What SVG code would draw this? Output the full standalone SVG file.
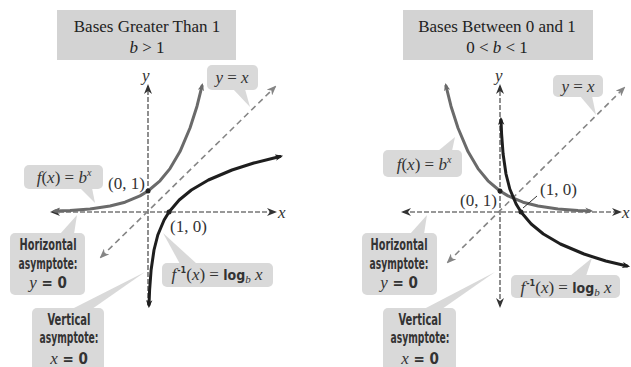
<svg xmlns="http://www.w3.org/2000/svg" width="631" height="367" viewBox="0 0 631 367">
<style>
.title{fill:#d3d3d3}
.tt{font-family:"Liberation Serif","DejaVu Serif","Times New Roman",serif;font-size:17px;fill:#222;text-anchor:middle}
.call{fill:#d9d9d9}
.m{font-family:"Liberation Serif","DejaVu Serif","Times New Roman",serif;font-size:17px;fill:#333}
.i{font-style:italic}
.asy{font-family:"DejaVu Sans Condensed","Liberation Sans Narrow","Liberation Sans",sans-serif;font-weight:bold;font-size:15px;fill:#333;text-anchor:middle}
.bs{font-family:"DejaVu Sans Condensed","Liberation Sans",sans-serif;font-weight:bold;font-style:normal}
.ser{font-family:"Liberation Serif","DejaVu Serif",serif;font-style:italic;font-weight:normal;font-size:17px}
.axis{stroke:#333;stroke-width:1.1;stroke-dasharray:5,2;fill:none}
.diag{stroke:#858585;stroke-width:1.6;stroke-dasharray:6,4;fill:none}
.exp{stroke:#6a6a6a;stroke-width:3;fill:none;stroke-linejoin:round;stroke-linecap:round}
.log{stroke:#1e1e1e;stroke-width:3;fill:none;stroke-linejoin:round;stroke-linecap:round}
.dot{fill:#222}
</style>
<defs>
<marker id="ah" viewBox="0 0 10 8" refX="8" refY="4" markerWidth="10" markerHeight="8" markerUnits="userSpaceOnUse" orient="auto-start-reverse"><path d="M0,0 L10,4 L0,8 L3,4 z" fill="#333"/></marker>
<marker id="ahd" viewBox="0 0 10 8" refX="8" refY="4" markerWidth="10" markerHeight="8" markerUnits="userSpaceOnUse" orient="auto-start-reverse"><path d="M0,0 L10,4 L0,8 L3,4 z" fill="#858585"/></marker>
<marker id="ahe" viewBox="0 0 10 8" refX="6" refY="4" markerWidth="8" markerHeight="7" markerUnits="userSpaceOnUse" orient="auto-start-reverse"><path d="M0,0 L10,4 L0,8 L3,4 z" fill="#6a6a6a"/></marker>
<marker id="ahl" viewBox="0 0 10 8" refX="6" refY="4" markerWidth="8" markerHeight="7" markerUnits="userSpaceOnUse" orient="auto-start-reverse"><path d="M0,0 L10,4 L0,8 L3,4 z" fill="#1e1e1e"/></marker>
</defs>

<!-- Left panel -->
<g id="title-left">
<rect class="title" x="57" y="10" width="179" height="50"/>
<text class="tt" x="147" y="32">Bases Greater Than 1</text>
<text class="tt" x="147" y="53"><tspan class="i">b</tspan> &gt; 1</text>
</g>

<g id="connectors">
<line class="axis" x1="148" y1="305" x2="148" y2="86" marker-end="url(#ah)"/>
<line class="axis" x1="52" y1="212" x2="275" y2="212" marker-start="url(#ah)" marker-end="url(#ah)"/>
<line class="diag" x1="101" y1="257" x2="275" y2="87" marker-start="url(#ahd)" marker-end="url(#ahd)"/>
<polyline class="exp" points="55,211 70,210.4 90,208.9 110,206 125,202.2 140,195.9 148,191 160,180.8 170,168.6 180,151.6 190,128 197,106.2 202,86" marker-start="url(#ahe)" marker-end="url(#ahe)"/>
<polyline class="log" points="149,305 149.6,290 151.1,270 154,250 157.8,235 164.1,220 169,212 179.2,200 191.4,190 208.4,180 232,170 253.8,163 280,156.5" marker-start="url(#ahl)" marker-end="url(#ahl)"/>
<line class="axis" x1="500" y1="306" x2="500" y2="86" marker-start="url(#ah)" marker-end="url(#ah)"/>
<line class="axis" x1="403" y1="212" x2="620" y2="212" marker-start="url(#ah)" marker-end="url(#ah)"/>
<line class="diag" x1="448" y1="262" x2="624" y2="88" marker-start="url(#ahd)" marker-end="url(#ahd)"/>
<polyline class="exp" points="446,86 451,106.2 458,128 468,151.6 478,168.6 488,180.8 500,191 508,195.9 523,202.2 538,206 558,208.9 578,210.4 590,210.9" marker-start="url(#ahe)" marker-end="url(#ahe)"/>
<polyline class="log" points="501,120 501.6,134 503.1,154 506,174 509.8,189 516.1,204 521,212 531.2,224 543.4,234 560.4,244 584,254 605.8,261 627,266" marker-start="url(#ahl)" marker-end="url(#ahl)"/>
<line x1="537" y1="196" x2="523" y2="208" stroke="#333" stroke-width="1"/>
</g>

<g id="points">
<circle class="dot" cx="148" cy="191" r="2.5"/>
<circle class="dot" cx="169" cy="212" r="2.5"/>
<circle class="dot" cx="500" cy="191" r="2.5"/>
<circle class="dot" cx="521" cy="212" r="2.5"/>
</g>

<g id="axis-labels">
<text class="m i" x="142" y="81">y</text>
<text class="m i" x="278" y="218">x</text>
<text class="m i" x="495" y="81">y</text>
<text class="m i" x="622" y="218">x</text>
<text class="m" x="108" y="189" font-size="16">(0, 1)</text>
<text class="m" x="170" y="232" font-size="16">(1, 0)</text>
<text class="m" x="460" y="206" font-size="16">(0, 1)</text>
<text class="m" x="540" y="195" font-size="16">(1, 0)</text>
</g>

<g id="callout-yx-left">
<path class="call" d="M233,89 L250,107 L245,89 z"/>
<rect class="call" x="207" y="65" width="51" height="25" rx="5"/>
<text class="m" x="232" y="83" text-anchor="middle"><tspan class="i">y</tspan> = <tspan class="i">x</tspan></text>
</g>
<g id="callout-fx-left">
<path class="call" d="M80,188 L95,203 L92,188 z"/>
<rect class="call" x="24" y="165" width="79" height="24" rx="5"/>
<text class="m" x="64" y="183" text-anchor="middle" font-size="16"><tspan class="i">f</tspan>(<tspan class="i">x</tspan>) = <tspan class="i">b</tspan><tspan class="i" font-size="10" dy="-7">x</tspan></text>
</g>
<g id="callout-hasym-left">
<path class="call" d="M60,234 L77,215 L74,234 z"/>
<rect class="call" x="10" y="233" width="75" height="62" rx="5"/>
<text class="asy" x="48" y="250" textLength="57" lengthAdjust="spacingAndGlyphs">Horizontal</text>
<text class="asy" x="48" y="269" textLength="59" lengthAdjust="spacingAndGlyphs">asymptote:</text>
<text class="asy" x="48" y="288"><tspan class="ser">y</tspan> = 0</text>
</g>
<g id="callout-log-left">
<path class="call" d="M180,264 L163,233 L197,264 z"/>
<rect class="call" x="162" y="263" width="111" height="24" rx="5"/>
<text class="m" x="217" y="280" text-anchor="middle" font-size="16"><tspan class="i">f</tspan><tspan class="bs" font-size="9" dx="1" dy="-7">-1</tspan><tspan dy="7">(</tspan><tspan class="i">x</tspan>) = <tspan class="bs" font-size="14">log</tspan><tspan class="i" font-size="11" dy="3">b</tspan><tspan dy="-3"> </tspan><tspan class="i">x</tspan></text>
</g>
<g id="callout-vasym-left">
<path class="call" d="M72,309 L145,272 L92,309 z"/>
<rect class="call" x="32" y="308" width="72" height="64" rx="5"/>
<text class="asy" x="69" y="325" textLength="43" lengthAdjust="spacingAndGlyphs">Vertical</text>
<text class="asy" x="69" y="343" textLength="59" lengthAdjust="spacingAndGlyphs">asymptote:</text>
<text class="asy" x="69" y="364" font-size="14"><tspan class="ser" font-size="16">x</tspan> = 0</text>
</g>

<!-- Right panel -->
<g id="title-right">
<rect class="title" x="403" y="10" width="190" height="50"/>
<text class="tt" x="497" y="32">Bases Between 0 and 1</text>
<text class="tt" x="497" y="53">0 &lt; <tspan class="i">b</tspan> &lt; 1</text>
</g>
<g id="callout-yx-right">
<path class="call" d="M580,96 L596,115 L592,96 z"/>
<rect class="call" x="553" y="75" width="50" height="22" rx="5"/>
<text class="m" x="578" y="92" text-anchor="middle"><tspan class="i">y</tspan> = <tspan class="i">x</tspan></text>
</g>
<g id="callout-fx-right">
<path class="call" d="M438,151 L455,137 L452,151 z"/>
<rect class="call" x="383" y="150" width="79" height="27" rx="5"/>
<text class="m" x="424" y="170" text-anchor="middle" font-size="16"><tspan class="i">f</tspan>(<tspan class="i">x</tspan>) = <tspan class="i">b</tspan><tspan class="i" font-size="10" dy="-7">x</tspan></text>
</g>
<g id="callout-hasym-right">
<path class="call" d="M410,234 L427,215 L424,234 z"/>
<rect class="call" x="362" y="233" width="75" height="62" rx="5"/>
<text class="asy" x="399" y="250" textLength="57" lengthAdjust="spacingAndGlyphs">Horizontal</text>
<text class="asy" x="399" y="269" textLength="59" lengthAdjust="spacingAndGlyphs">asymptote:</text>
<text class="asy" x="399" y="288"><tspan class="ser">y</tspan> = 0</text>
</g>
<g id="callout-log-right">
<path class="call" d="M570,276 L592,258 L586,276 z"/>
<rect class="call" x="511" y="275" width="109" height="23" rx="5"/>
<text class="m" x="566" y="293" text-anchor="middle" font-size="16"><tspan class="i">f</tspan><tspan class="bs" font-size="9" dx="1" dy="-7">-1</tspan><tspan dy="7">(</tspan><tspan class="i">x</tspan>) = <tspan class="bs" font-size="14">log</tspan><tspan class="i" font-size="11" dy="3">b</tspan><tspan dy="-3"> </tspan><tspan class="i">x</tspan></text>
</g>
<g id="callout-vasym-right">
<path class="call" d="M424,309 L495,272 L442,309 z"/>
<rect class="call" x="383" y="308" width="73" height="64" rx="5"/>
<text class="asy" x="420" y="325" textLength="43" lengthAdjust="spacingAndGlyphs">Vertical</text>
<text class="asy" x="420" y="343" textLength="59" lengthAdjust="spacingAndGlyphs">asymptote:</text>
<text class="asy" x="420" y="364" font-size="14"><tspan class="ser" font-size="16">x</tspan> = 0</text>
</g>
</svg>
